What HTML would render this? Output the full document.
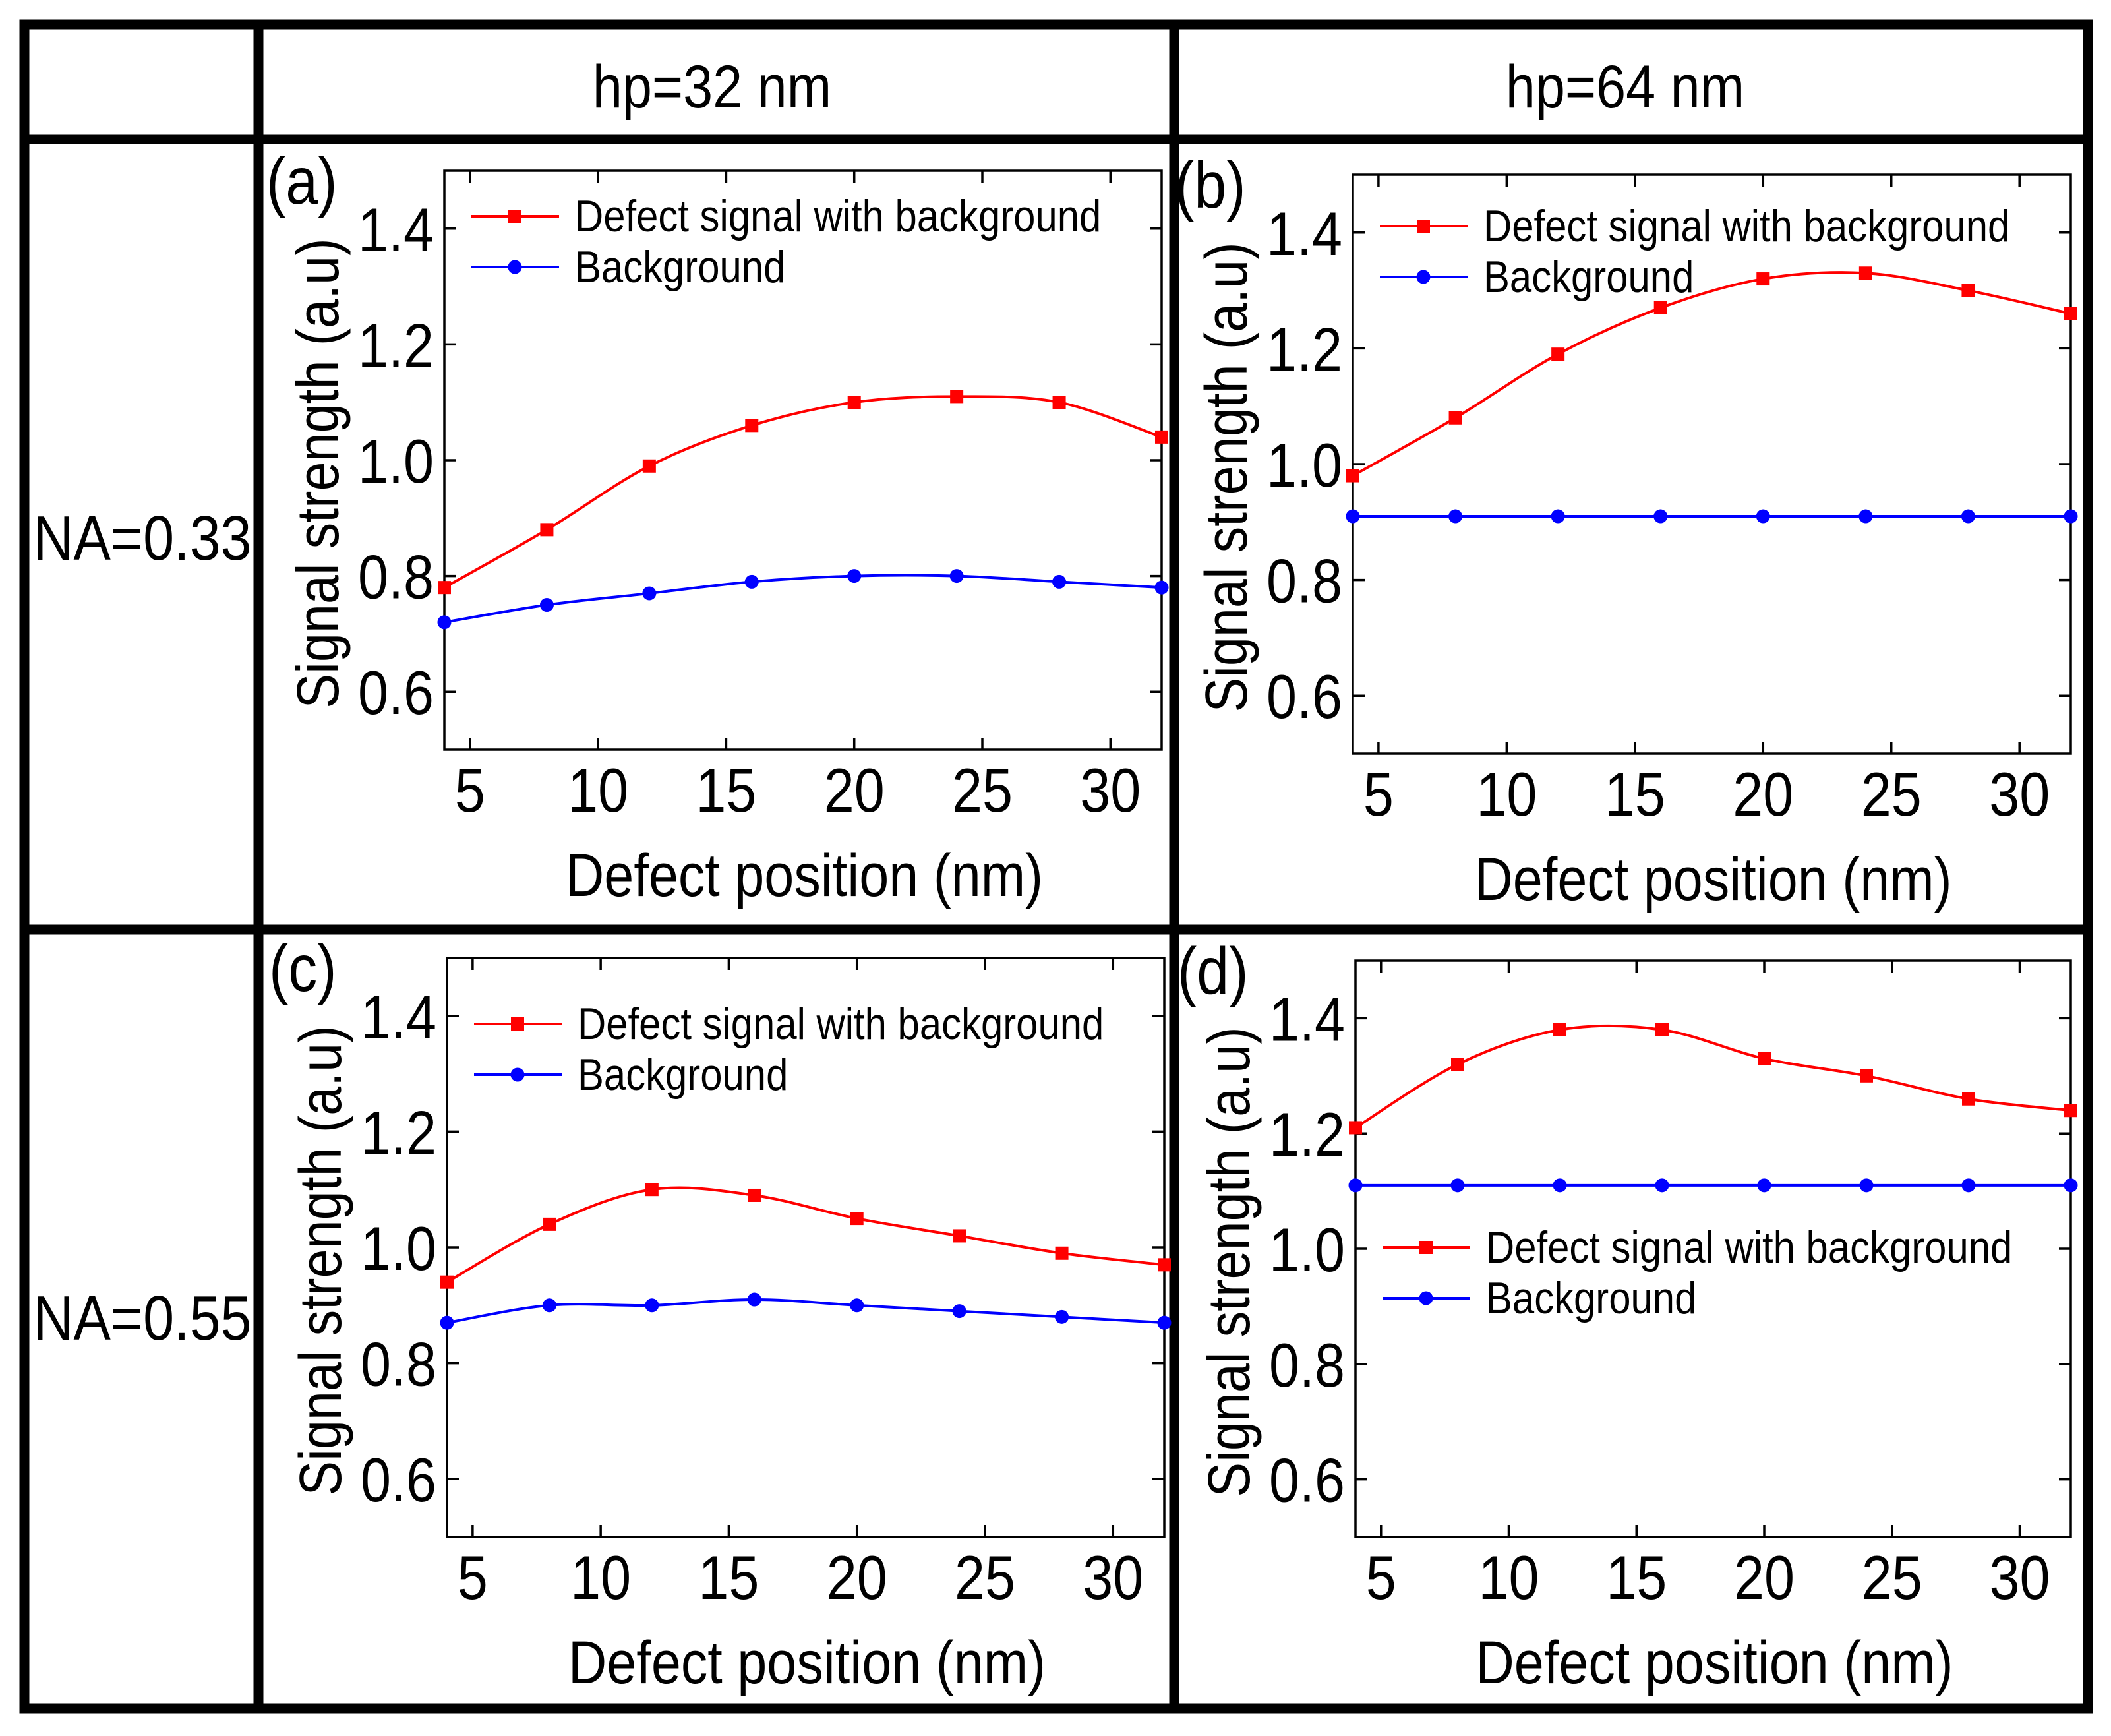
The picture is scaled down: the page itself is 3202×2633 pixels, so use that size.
<!DOCTYPE html>
<html><head><meta charset="utf-8"><style>
body{margin:0;background:#fff}
svg{display:block}
text{font-family:"Liberation Sans",Arial,sans-serif;fill:#000}
</style></head><body>
<svg id="fig" width="3202" height="2633" viewBox="0 0 3202 2633" xmlns="http://www.w3.org/2000/svg">
<g stroke="#000" stroke-width="15" fill="none">
<rect x="37" y="37" width="3130" height="2554"/>
<line x1="392" y1="37" x2="392" y2="2591"/>
<line x1="1781" y1="37" x2="1781" y2="2591"/>
<line x1="37" y1="211" x2="3167" y2="211"/>
<line x1="37" y1="1410" x2="3167" y2="1410"/>
</g>
<text transform="translate(1080,163) scale(0.88,1)" font-size="92" text-anchor="middle">hp=32 nm</text>
<text transform="translate(2465,163) scale(0.88,1)" font-size="92" text-anchor="middle">hp=64 nm</text>
<text transform="translate(216,849) scale(0.88,1)" font-size="96" text-anchor="middle">NA=0.33</text>
<text transform="translate(216,2032) scale(0.88,1)" font-size="96" text-anchor="middle">NA=0.55</text>
<g id="plots"></g>
</svg>
<script>
const xValues=[4,8,12,16,20,24,28,32];
const redA=[0.78,0.88,0.99,1.06,1.10,1.11,1.10,1.04];
const blueA=[0.72,0.75,0.77,0.79,0.80,0.80,0.79,0.78];
const redB=[0.98,1.08,1.19,1.27,1.32,1.33,1.30,1.26];
const blueB=[0.91,0.91,0.91,0.91,0.91,0.91,0.91,0.91];
const redC=[0.94,1.04,1.10,1.09,1.05,1.02,0.99,0.97];
const blueC=[0.87,0.90,0.90,0.91,0.90,0.89,0.88,0.87];
const redD=[1.21,1.32,1.38,1.38,1.33,1.30,1.26,1.24];
const blueD=[1.11,1.11,1.11,1.11,1.11,1.11,1.11,1.11];
const xTicks=[5,10,15,20,25,30];
const yTicks=[0.6,0.8,1.0,1.2,1.4];
const seriesNames=["Defect signal with background","Background"];
const panelLabels=["(a)","(b)","(c)","(d)"];

const NS="http://www.w3.org/2000/svg";
const root=document.getElementById('plots');
const SX=0.88;
function mk(tag,attrs,parent){const e=document.createElementNS(NS,tag);for(const k in attrs)e.setAttribute(k,attrs[k]);parent.appendChild(e);return e;}
function txt(parent,x,y,size,anchor,str,rot){
 const t=mk('text',{'font-size':size,'text-anchor':anchor,transform:`translate(${x},${y})${rot?' rotate(-90)':''} scale(${SX},1)`},parent);
 t.textContent=str;return t;
}
const panels=[
 {x0:674,x1:1762,y0:259,y1:1137,red:redA,blue:blueA,leg:69},
 {x0:2052,x1:3141,y0:265,y1:1143,red:redB,blue:blueB,leg:78},
 {x0:678,x1:1766,y0:1453,y1:2331,red:redC,blue:blueC,leg:100},
 {x0:2056,x1:3141,y0:1457,y1:2331,red:redD,blue:blueD,leg:435}
];
function spline(pts){
 let d=`M${pts[0][0]},${pts[0][1]}`;
 for(let i=0;i<pts.length-1;i++){
  const p0=pts[Math.max(0,i-1)],p1=pts[i],p2=pts[i+1],p3=pts[Math.min(pts.length-1,i+2)];
  const c1=[p1[0]+(p2[0]-p0[0])/6,p1[1]+(p2[1]-p0[1])/6];
  const c2=[p2[0]-(p3[0]-p1[0])/6,p2[1]-(p3[1]-p1[1])/6];
  d+=` C${c1[0]},${c1[1]} ${c2[0]},${c2[1]} ${p2[0]},${p2[1]}`;
 }
 return d;
}
panels.forEach((p,pi)=>{
 const g=mk('g',{},root);
 
 
 const sx=v=>p.x0+(v-4)/(32-4)*(p.x1-p.x0);
 const sy=v=>p.y1-(v-0.5)/(1.5-0.5)*(p.y1-p.y0);
 const frame=mk('rect',{x:p.x0,y:p.y0,width:p.x1-p.x0,height:p.y1-p.y0,fill:'none',stroke:'#000','stroke-width':3.5},g);
 
 
 xTicks.forEach(t=>{
  const x=sx(t);
  mk('line',{x1:x,y1:p.y1,x2:x,y2:p.y1-18,stroke:'#000','stroke-width':3.5},g);
  mk('line',{x1:x,y1:p.y0,x2:x,y2:p.y0+18,stroke:'#000','stroke-width':3.5},g);
  const tl=txt(g,x,p.y1+94,94,'middle',String(t));
  
  
 });
 yTicks.forEach(t=>{
  const y=sy(t);
  mk('line',{x1:p.x0,y1:y,x2:p.x0+18,y2:y,stroke:'#000','stroke-width':3.5},g);
  mk('line',{x1:p.x1,y1:y,x2:p.x1-18,y2:y,stroke:'#000','stroke-width':3.5},g);
  const tl=txt(g,p.x0-16,y+34,94,'end',t.toFixed(1));
  
  
 });
 const xt=txt(g,(p.x0+p.x1)/2+2,p.y1+222,92,'middle','Defect position (nm)');
 
 
 const cy=(p.y0+p.y1)/2+20;
 const yt=txt(g,p.x0-161,cy,90,'middle','Signal strength (a.u)',true);
 
 
 const pl=txt(g,p.x0-270,p.y0+50,100,'start',panelLabels[pi]);
 
 
 [[p.red,'#ff0000','sq'],[p.blue,'#0000ff','ci']].forEach(([vals,col,mkr],si)=>{
  const pts=xValues.map((x,i)=>[sx(x),sy(vals[i])]);
  const line=mk('path',{d:spline(pts),fill:'none',stroke:col,'stroke-width':4},g);
  
  
  pts.forEach(pt=>{
   let m;
   if(mkr==='sq') m=mk('rect',{x:pt[0]-10,y:pt[1]-10,width:20,height:20,fill:col},g);
   else m=mk('circle',{cx:pt[0],cy:pt[1],r:10.5,fill:col},g);
   
   
  });
  const ly=p.y0+p.leg+si*77;
  const lx=p.x0+41;
  mk('line',{x1:lx,y1:ly,x2:lx+133,y2:ly,stroke:col,'stroke-width':4},g);
  const lm=mkr==='sq'?mk('rect',{x:lx+56,y:ly-10,width:20,height:20,fill:col},g):mk('circle',{cx:lx+66,cy:ly,r:10.5,fill:col},g);
  
  
  const lt=txt(g,lx+157,ly+23,68,'start',seriesNames[si]);
  
  
 });
});
</script>
</body></html>
